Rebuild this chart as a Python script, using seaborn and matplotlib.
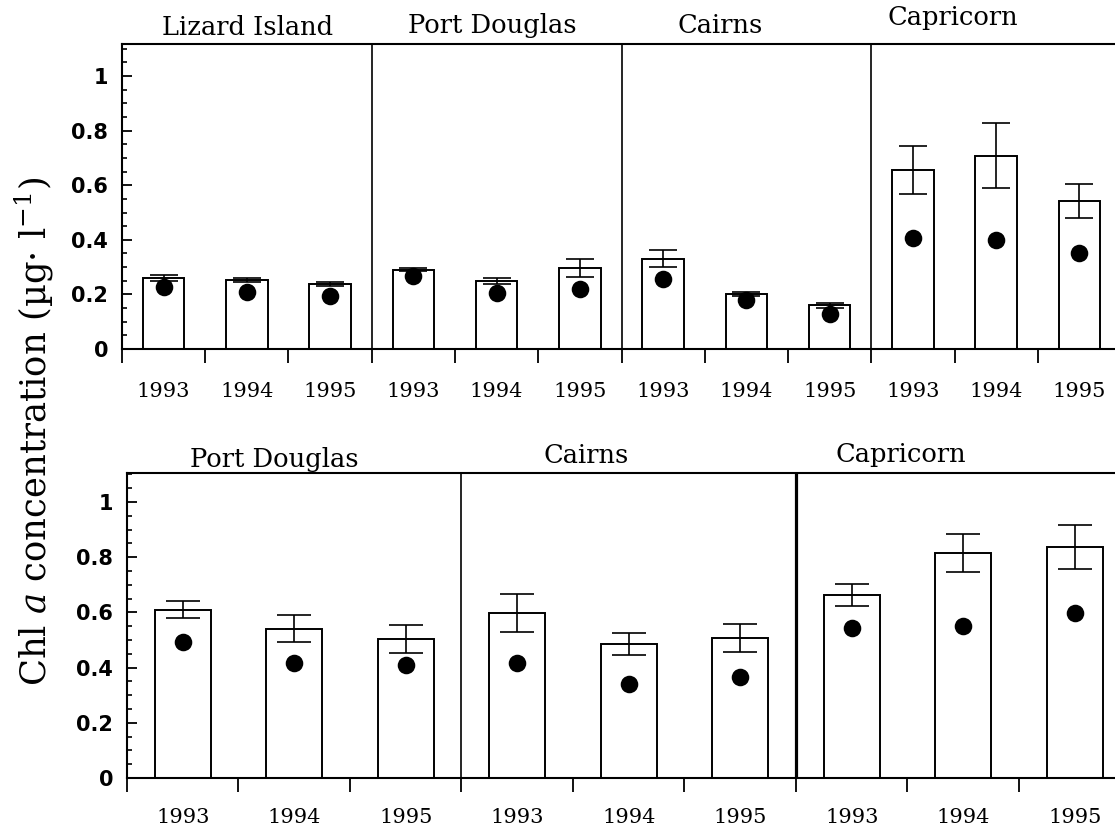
import numpy as np
import pandas as pd
import matplotlib
matplotlib.use("Agg")
import matplotlib.pyplot as plt
import matplotlib.transforms as mtransforms
import seaborn as sns
from matplotlib.ticker import FixedLocator, MultipleLocator, NullFormatter

# ---- data -------------------------------------------------------------
years = ["1993", "1994", "1995"]

top_sites = ["Lizard Island", "Port Douglas", "Cairns", "Capricorn"]
top_bars = [0.260, 0.253, 0.238, 0.290, 0.249, 0.297, 0.330, 0.201, 0.161, 0.656, 0.707, 0.542]
top_err = [0.010, 0.008, 0.008, 0.006, 0.011, 0.033, 0.031, 0.007, 0.009, 0.088, 0.119, 0.062]
top_dots = [0.227, 0.210, 0.195, 0.267, 0.205, 0.220, 0.256, 0.180, 0.130, 0.407, 0.399, 0.352]

bottom_sites = ["Port Douglas", "Cairns", "Capricorn"]
bottom_bars = [0.609, 0.540, 0.504, 0.598, 0.486, 0.507, 0.663, 0.815, 0.837]
bottom_err = [0.031, 0.049, 0.052, 0.070, 0.040, 0.051, 0.040, 0.068, 0.080]
bottom_dots = [0.493, 0.417, 0.410, 0.417, 0.340, 0.366, 0.543, 0.551, 0.598]

y_ticks = [0, 0.2, 0.4, 0.6, 0.8, 1.0]
y_tick_labels = ["0", "0.2", "0.4", "0.6", "0.8", "1"]

# site title placement (x in data units, y in axes units)
top_title_pos = [(1.01, 1.030), (3.95, 1.036), (6.68, 1.036), (9.48, 1.062)]
bottom_title_pos = [(0.82, 1.020), (3.62, 1.033), (6.44, 1.035)]

y_label = "Chl $\\mathit{a}$ concentration (µg· l$^{-1}$)"

# ---- style ------------------------------------------------------------
sns.set_style("ticks")
plt.rcParams["font.family"] = ["DejaVu Serif"]
plt.rcParams["mathtext.fontset"] = "dejavuserif"
plt.rcParams["axes.linewidth"] = 1.5
plt.rcParams["axes.edgecolor"] = "black"
plt.rcParams["text.color"] = "black"
plt.rcParams["xtick.color"] = "black"
plt.rcParams["ytick.color"] = "black"
plt.rcParams["axes.labelcolor"] = "black"

SERIF = "DejaVu Serif"
SANS = "DejaVu Sans"


def build_frame(sites, bars, errs, dots):
    rows = []
    i = 0
    for s in sites:
        for y in years:
            rows.append({"cat": f"{s} {y}", "site": s, "year": y,
                         "mean": bars[i], "err": errs[i], "dot": dots[i], "pos": i})
            i += 1
    return pd.DataFrame(rows)


def draw_panel(ax, df, sites, title_pos, ymax, year_pad, dividers, cap):
    n = len(df)
    sns.barplot(data=df, x="cat", y="mean", order=list(df["cat"]), ax=ax,
                color="white", edgecolor="black", linewidth=1.4, width=0.5,
                errorbar=None, saturation=1, zorder=2)
    ax.errorbar(df["pos"], df["mean"], yerr=df["err"], fmt="none",
                ecolor="black", elinewidth=1.2, capsize=cap, capthick=1.2, zorder=3)
    sns.scatterplot(data=df, x="pos", y="dot", ax=ax, color="black", s=160,
                    edgecolor="black", linewidth=0, zorder=4, legend=False)

    for xd, lw in dividers:
        ax.axvline(xd, color="black", lw=lw, zorder=5)

    ax.set_xlim(-0.5, n - 0.5)
    ax.set_ylim(0, ymax)

    ax.xaxis.set_major_locator(FixedLocator(np.arange(n + 1) - 0.5))
    ax.xaxis.set_major_formatter(NullFormatter())
    ax.set_xticks(np.arange(n), list(df["year"]), minor=True)
    ax.tick_params(axis="x", which="major", direction="out", length=10, width=1.3)
    ax.tick_params(axis="x", which="minor", length=0, pad=year_pad, labelsize=15)
    for lab in ax.get_xticklabels(minor=True):
        lab.set_fontfamily(SERIF)

    ax.set_yticks(y_ticks, y_tick_labels)
    ax.yaxis.set_minor_locator(MultipleLocator(0.05))
    ax.tick_params(axis="y", which="major", direction="in", length=7, width=1.3,
                   pad=10, labelsize=15)
    ax.tick_params(axis="y", which="minor", direction="in", length=3.5, width=1.2)
    for lab in ax.get_yticklabels():
        lab.set_fontfamily(SANS)
        lab.set_fontweight("bold")

    ax.set_xlabel("")
    ax.set_ylabel("")
    ax.spines["right"].set_visible(False)

    trans = mtransforms.blended_transform_factory(ax.transData, ax.transAxes)
    for s, (tx, ty) in zip(sites, title_pos):
        ax.text(tx, ty, s, transform=trans, ha="center", va="baseline",
                fontsize=18.5, fontfamily=SERIF)


fig = plt.figure(figsize=(11.15, 8.31), dpi=100)

ax_top = fig.add_axes([0.1094, 0.580, 0.896, 0.367])
draw_panel(ax_top, build_frame(top_sites, top_bars, top_err, top_dots), top_sites,
           top_title_pos, 1.117, 24, [(2.5, 1.2), (5.5, 1.2), (8.5, 1.2)], 10)

ax_bot = fig.add_axes([0.1139, 0.0638, 0.900, 0.367])
draw_panel(ax_bot, build_frame(bottom_sites, bottom_bars, bottom_err, bottom_dots),
           bottom_sites, bottom_title_pos, 1.105, 21.5, [(2.5, 1.2), (5.5, 2.3)], 12)

fig.text(0.031, 1 - 431 / 831, y_label, rotation=90, ha="center", va="center",
         fontsize=25.5, fontfamily=SERIF)

fig.savefig("out.png", dpi=100, facecolor="white")
